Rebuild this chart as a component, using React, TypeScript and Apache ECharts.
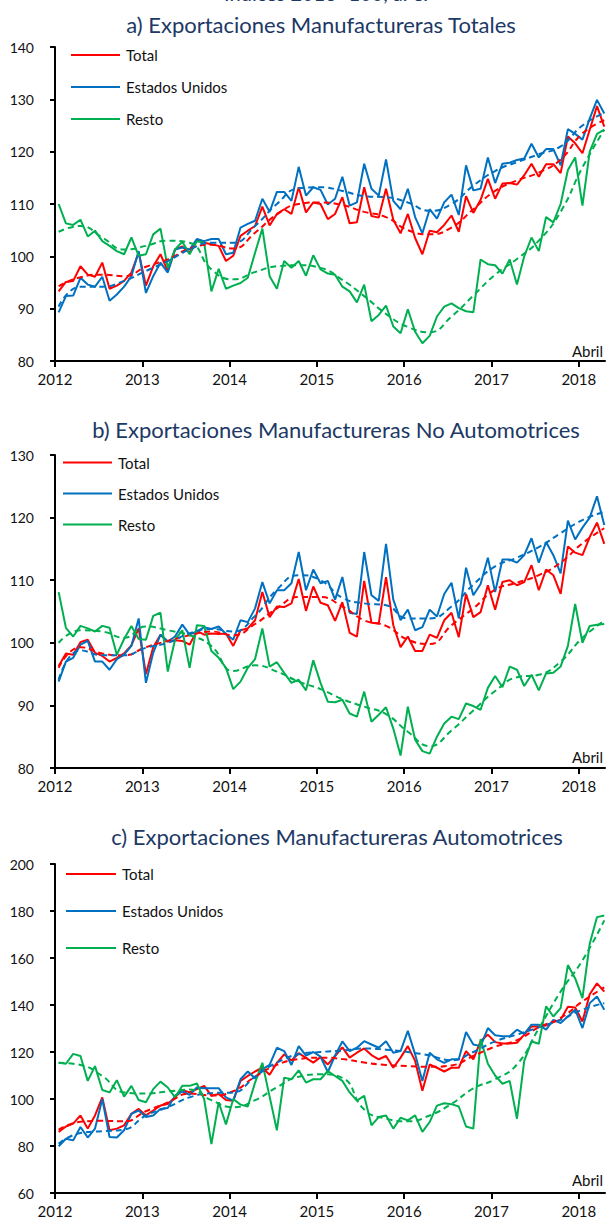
import React, { useEffect, useRef } from 'react';
import * as echarts from 'echarts';

// ---------- data ----------
const yearLabels = ['2012', '2013', '2014', '2015', '2016', '2017', '2018'];
const seriesNames = ['Total', 'Estados Unidos', 'Resto'];
const lastMonthLabel = 'Abril';
const headerCut = 'Índices 2013=100, a. e.';
const panelTitles = [
  'a) Exportaciones Manufactureras Totales',
  'b) Exportaciones Manufactureras No Automotrices',
  'c) Exportaciones Manufactureras Automotrices',
];

// monthly values, Jan 2012 .. Apr 2018 (76 months)
const totA = [
  93.3, 95.1, 95.3, 98.1, 96.5, 96.1, 98.8, 93.8, 94.4, 95.3, 96.9, 100.7,
  94.4, 98.1, 100.4, 97.2, 101.3, 101.9, 100.7, 103.1, 102.6, 102.3, 102.0, 99.1,
  100.1, 103.9, 104.9, 105.8, 109.5, 105.9, 108.1, 109.0, 108.1, 113.2, 108.4, 110.3,
  110.0, 107.1, 108.1, 111.3, 106.3, 106.5, 113.2, 107.7, 107.4, 112.9, 107.0, 104.4,
  108.1, 103.5, 100.4, 104.9, 104.6, 106.0, 107.8, 104.7, 111.5, 108.3, 110.8, 114.8,
  111.0, 113.9, 114.0, 113.7, 115.5, 117.7, 115.2, 117.6, 117.6, 115.9, 122.9, 121.6,
  119.7, 124.2, 128.7, 124.8,
];
const usA = [
  89.3, 92.4, 92.5, 95.9, 94.6, 94.2, 96.1, 91.5, 92.7, 94.2, 96.2, 101.0,
  93.0, 96.2, 98.8, 96.9, 101.3, 101.7, 101.3, 103.3, 102.9, 103.3, 103.3, 100.4,
  100.7, 105.5, 106.2, 106.8, 111.0, 108.5, 112.3, 112.3, 110.6, 117.1, 111.6, 113.2,
  112.7, 109.9, 111.0, 115.2, 109.7, 110.3, 117.7, 112.9, 111.6, 118.5, 110.6, 109.0,
  112.9, 107.5, 104.4, 109.0, 107.2, 110.3, 111.8, 107.9, 117.4, 112.6, 112.9, 118.9,
  114.0, 117.7, 117.9, 118.4, 118.7, 121.5, 118.9, 120.5, 120.5, 117.4, 124.3, 123.4,
  122.3, 126.3, 129.9, 127.3,
];
const restoA = [
  110.0, 106.3, 106.0, 107.0, 103.8, 104.9, 102.9, 102.0, 101.0, 100.4, 103.6, 100.1,
  100.4, 104.2, 105.3, 97.8, 101.3, 102.8, 100.4, 102.9, 102.6, 93.3, 97.6, 93.8,
  94.4, 94.9, 95.9, 100.7, 105.3, 96.2, 93.8, 99.1, 97.8, 99.1, 96.3, 100.2,
  97.5, 96.7, 96.5, 94.2, 93.3, 91.2, 94.6, 87.6, 88.8, 90.6, 86.6, 85.3,
  89.9, 85.6, 83.4, 84.8, 88.5, 90.4, 91.0, 90.1, 89.5, 89.3, 99.4, 98.5,
  98.3, 96.7, 99.4, 94.6, 100.0, 103.6, 101.0, 107.5, 106.5, 110.0, 116.5, 118.9,
  109.7, 120.0, 123.4, 124.2,
];

const totB = [
  96.3, 98.3, 98.1, 100.1, 100.5, 98.4, 97.9, 97.0, 97.6, 98.3, 99.6, 102.3,
  95.0, 99.3, 101.3, 100.2, 100.4, 100.3, 99.7, 101.9, 101.3, 101.5, 101.4, 101.5,
  99.5, 102.0, 102.3, 103.6, 108.1, 104.1, 105.8, 105.7, 106.3, 110.2, 105.1, 109.0,
  106.4, 106.0, 103.5, 106.5, 101.6, 101.0, 109.9, 103.2, 103.1, 110.5, 102.8, 99.3,
  101.0, 98.7, 98.7, 101.3, 100.8, 103.6, 104.8, 100.9, 107.8, 104.1, 104.9, 109.2,
  105.3, 109.7, 110.0, 109.2, 109.7, 112.4, 108.4, 111.7, 110.8, 107.8, 115.4, 114.4,
  114.0, 116.9, 119.2, 115.8,
];
const usB = [
  93.8, 97.0, 97.6, 99.7, 100.3, 97.0, 97.0, 95.7, 97.4, 98.1, 99.5, 103.9,
  93.6, 98.4, 101.3, 100.2, 101.0, 102.9, 101.3, 101.8, 102.5, 102.2, 102.6, 101.4,
  100.5, 103.6, 103.3, 105.5, 109.7, 106.3, 108.4, 108.4, 109.5, 114.5, 108.4, 111.7,
  109.5, 109.9, 106.9, 110.5, 104.8, 104.6, 114.5, 107.6, 106.7, 115.8, 106.9, 103.6,
  105.3, 102.0, 102.5, 105.3, 104.2, 107.8, 109.6, 103.9, 112.0, 107.6, 109.4, 113.6,
  108.1, 113.3, 113.3, 112.8, 114.0, 116.7, 112.8, 116.1, 114.0, 111.1, 119.5, 116.5,
  118.4, 120.0, 123.4, 118.8,
];
const restoB = [
  108.1, 102.4, 101.0, 102.7, 102.3, 101.8, 102.7, 102.4, 98.1, 100.6, 102.7, 100.6,
  100.5, 104.3, 104.8, 95.4, 100.5, 102.0, 96.0, 102.8, 102.7, 98.7, 97.6, 96.0,
  92.6, 93.8, 96.0, 97.4, 102.3, 96.2, 96.9, 95.2, 93.6, 94.1, 92.4, 97.2,
  93.6, 90.6, 90.5, 90.9, 88.7, 88.2, 92.2, 87.4, 88.5, 89.7, 86.3, 82.0,
  89.8, 84.5, 82.7, 82.3, 85.0, 87.1, 88.2, 87.8, 90.3, 89.9, 89.3, 92.8,
  94.7, 92.9, 96.2, 95.7, 93.1, 94.9, 92.4, 95.1, 95.2, 96.2, 99.5, 106.2,
  100.0, 102.7, 102.9, 103.0,
];

const totC = [
  86.0, 88.3, 89.5, 93.0, 87.4, 93.0, 100.7, 86.7, 87.4, 88.8, 93.7, 95.8,
  93.0, 95.1, 97.2, 97.9, 100.7, 103.8, 102.8, 104.2, 105.6, 101.4, 102.1, 99.6,
  99.3, 107.7, 109.8, 111.7, 113.3, 110.3, 115.4, 119.0, 116.4, 119.5, 117.5, 115.5,
  117.8, 114.7, 118.3, 122.0, 117.6, 119.7, 121.5, 118.7, 116.9, 118.3, 113.3, 117.6,
  122.5, 116.2, 103.5, 114.7, 113.3, 111.7, 113.3, 113.3, 120.4, 116.9, 124.6, 127.4,
  124.2, 123.6, 123.6, 123.9, 127.4, 130.9, 130.9, 131.3, 132.7, 133.7, 139.3, 138.9,
  133.0, 144.6, 149.2, 145.7,
];
const usC = [
  79.9, 83.1, 82.4, 88.1, 83.6, 87.4, 100.0, 83.8, 83.6, 86.7, 93.7, 95.1,
  92.3, 93.0, 95.8, 96.2, 101.4, 103.2, 101.8, 104.9, 104.6, 104.6, 104.6, 100.7,
  99.3, 108.4, 111.7, 108.8, 112.6, 114.5, 121.8, 120.4, 114.5, 122.5, 118.5, 120.0,
  118.0, 111.5, 118.5, 124.5, 120.4, 121.8, 124.6, 123.2, 121.8, 124.6, 119.7, 120.4,
  129.0, 119.0, 107.7, 119.7, 116.9, 115.4, 116.9, 116.9, 128.5, 123.2, 122.5, 130.2,
  127.1, 126.7, 126.7, 129.5, 127.7, 131.6, 131.6, 129.5, 133.7, 132.3, 135.1, 138.0,
  130.2, 140.8, 143.6, 138.0,
];
const restoC = [
  115.4, 115.0, 119.2, 118.3, 107.7, 114.0, 103.8, 102.8, 108.0, 101.0, 105.6, 99.6,
  98.6, 104.2, 107.4, 104.9, 100.7, 105.6, 105.6, 106.6, 100.0, 80.8, 98.6, 89.2,
  100.0, 97.6, 96.8, 107.0, 115.4, 101.0, 86.7, 109.1, 108.4, 112.2, 107.0, 108.4,
  108.4, 111.9, 109.8, 107.7, 102.8, 99.3, 101.4, 88.8, 92.3, 93.0, 87.4, 92.0,
  90.9, 93.0, 86.0, 90.2, 97.2, 98.2, 97.8, 96.8, 88.3, 87.4, 125.5, 115.0,
  110.0, 106.5, 107.7, 91.6, 116.2, 124.5, 123.5, 139.4, 135.1, 138.7, 157.0, 151.3,
  142.9, 166.1, 177.4, 178.1,
];

// trend values every third month (Jan 2012, Apr 2012, ... Apr 2018)
const trendTotA = [94.3, 96.0, 96.5, 96.2, 98.0, 99.4, 101.5, 102.2, 101.5, 104.5, 108.0, 110.0, 110.3, 109.8, 108.5, 107.5, 105.0, 104.2, 105.5, 109.0, 112.5, 114.5, 116.0, 118.5, 123.5, 126.0];
const trendUsA = [90.4, 94.2, 94.2, 95.3, 97.2, 99.1, 101.3, 102.6, 102.6, 105.8, 110.0, 113.0, 113.2, 112.5, 111.5, 111.3, 110.3, 108.7, 110.0, 113.5, 116.3, 118.0, 119.5, 121.0, 125.0, 127.4];
const trendRestoA = [104.7, 105.8, 103.6, 101.3, 102.0, 103.0, 102.6, 97.5, 95.6, 97.0, 98.1, 98.3, 97.8, 95.5, 92.4, 89.0, 86.5, 85.5, 88.5, 92.5, 96.5, 99.5, 103.0, 108.5, 117.0, 124.2];

const trendTotB = [96.0, 99.3, 98.3, 98.0, 99.3, 100.3, 101.2, 101.8, 101.2, 103.0, 105.5, 107.3, 107.3, 105.8, 103.6, 102.7, 100.5, 99.8, 102.8, 105.5, 108.5, 109.6, 110.8, 112.8, 115.9, 118.3];
const trendUsB = [94.1, 98.8, 98.0, 98.0, 99.2, 100.0, 101.5, 102.2, 101.8, 104.3, 108.5, 110.8, 110.0, 107.2, 106.3, 106.0, 103.9, 103.9, 105.8, 109.3, 112.2, 113.6, 115.3, 117.5, 119.6, 120.9];
const trendRestoB = [100.0, 102.0, 101.8, 100.8, 102.6, 102.0, 101.2, 99.5, 95.5, 96.4, 95.4, 93.8, 92.6, 91.0, 89.8, 88.6, 85.8, 83.5, 86.0, 89.2, 92.3, 94.5, 94.9, 97.0, 100.8, 103.5];

const trendTotC = [87.0, 90.3, 90.7, 90.5, 94.8, 98.5, 102.3, 101.5, 103.3, 109.5, 114.5, 117.0, 117.6, 117.0, 115.5, 114.5, 114.0, 113.7, 114.3, 118.3, 122.3, 125.0, 130.5, 134.5, 141.5, 147.5];
const trendUsC = [81.0, 85.5, 86.3, 87.0, 93.0, 96.5, 100.7, 102.5, 102.8, 109.5, 115.5, 119.0, 120.0, 120.6, 121.5, 121.0, 120.0, 118.5, 116.5, 120.0, 124.5, 127.4, 130.5, 133.7, 138.0, 140.8];
const trendRestoC = [115.4, 114.5, 109.8, 102.8, 102.3, 103.2, 104.0, 99.5, 96.5, 99.5, 105.0, 109.5, 110.5, 109.0, 95.5, 91.6, 90.5, 93.0, 97.9, 104.5, 108.4, 114.7, 130.0, 145.7, 159.0, 176.0];

const yRanges = [
  [80, 140, 10],
  [80, 130, 10],
  [60, 200, 20],
];

// ---------- styling / layout ----------
const COLORS = ['#FF0000', '#0070C0', '#00B050'];
const TITLE_COLOR = '#203864';
const FONT = 'Lato, "Open Sans", sans-serif';

const layout = [
  { gridTop: 47, gridH: 314, titleX: 321, titleY: 24, legX: 71, legW: 49, legY: 55, legGap: 32, abrilY: 351 },
  { gridTop: 455, gridH: 313, titleX: 336, titleY: 429.5, legX: 63, legW: 49, legY: 462.5, legGap: 31, abrilY: 757 },
  { gridTop: 864, gridH: 329, titleX: 337, titleY: 836.5, legX: 66, legW: 50, legY: 874, legGap: 37, abrilY: 1180 },
];

const monthly = (vals: number[]) => vals.map((v, i) => [i + 0.5, v]);
const quarterly = (vals: number[]) => vals.map((v, k) => [3 * k + 0.5, v]);

const rawSets = [
  [totA, usA, restoA],
  [totB, usB, restoB],
  [totC, usC, restoC],
];
const trendSets = [
  [trendTotA, trendUsA, trendRestoA],
  [trendTotB, trendUsB, trendRestoB],
  [trendTotC, trendUsC, trendRestoC],
];

const tickVals = yearLabels.map((_, k) => k * 12);

function buildOption() {
  const grid: any[] = [];
  const xAxis: any[] = [];
  const yAxis: any[] = [];
  const series: any[] = [];
  const graphic: any[] = [];

  layout.forEach((L, k) => {
    grid.push({ left: 55, top: L.gridTop, width: 550, height: L.gridH, outerBoundsMode: 'none' });
    xAxis.push({
      type: 'value', gridIndex: k, min: 0, max: 75.6, interval: 12,
      axisLine: { show: true, onZero: false, lineStyle: { color: '#000', width: 2 } },
      axisTick: { show: true, length: 6, customValues: tickVals, lineStyle: { color: '#000', width: 2 } },
      axisLabel: {
        customValues: tickVals, margin: 10, fontSize: 15, color: '#111', fontFamily: FONT,
        formatter: (v: number) => {
          const idx = v / 12;
          return Number.isInteger(idx) && yearLabels[idx] ? yearLabels[idx] : '';
        },
      },
      splitLine: { show: false },
    });
    const [mn, mx, iv] = yRanges[k];
    yAxis.push({
      type: 'value', gridIndex: k, min: mn, max: mx, interval: iv,
      axisLine: { show: true, lineStyle: { color: '#000', width: 2 } },
      axisTick: { show: true, length: 5, lineStyle: { color: '#000', width: 2 } },
      axisLabel: { margin: 21, fontSize: 14, color: '#111', fontFamily: FONT },
      splitLine: { show: false },
    });

    rawSets[k].forEach((vals, s) => {
      series.push({
        type: 'line', name: seriesNames[s], xAxisIndex: k, yAxisIndex: k,
        data: monthly(vals), symbol: 'none', silent: true,
        lineStyle: { color: COLORS[s], width: 2 }, itemStyle: { color: COLORS[s] },
      });
    });
    trendSets[k].forEach((vals, s) => {
      series.push({
        type: 'line', name: seriesNames[s] + ' tendencia', xAxisIndex: k, yAxisIndex: k,
        data: quarterly(vals), symbol: 'none', silent: true, smooth: 0.5,
        lineStyle: { color: COLORS[s], width: 2, type: [6, 4] }, itemStyle: { color: COLORS[s] },
      });
    });

    graphic.push({
      type: 'text', x: L.titleX, y: L.titleY, silent: true,
      style: { text: panelTitles[k], fill: TITLE_COLOR, fontSize: 22, fontFamily: FONT, align: 'center', verticalAlign: 'middle' },
    });
    seriesNames.forEach((nm, s) => {
      const cy = L.legY + s * L.legGap;
      graphic.push({
        type: 'line', silent: true,
        shape: { x1: L.legX, y1: cy, x2: L.legX + L.legW, y2: cy },
        style: { stroke: COLORS[s], lineWidth: 2 },
      });
      graphic.push({
        type: 'text', x: L.legX + L.legW + 6, y: cy, silent: true,
        style: { text: nm, fill: '#111', fontSize: 15, fontFamily: FONT, align: 'left', verticalAlign: 'middle' },
      });
    });
    graphic.push({
      type: 'text', x: 603, y: L.abrilY, silent: true,
      style: { text: lastMonthLabel, fill: '#111', fontSize: 15, fontFamily: FONT, align: 'right', verticalAlign: 'middle' },
    });
  });

  graphic.push({
    type: 'text', x: 326, y: 2.5, silent: true,
    style: { text: headerCut, fill: TITLE_COLOR, fontSize: 20, fontFamily: FONT, align: 'center', verticalAlign: 'bottom' },
  });

  return { animation: false, backgroundColor: '#fff', grid, xAxis, yAxis, series, graphic };
}

export default function App() {
  const ref = useRef<HTMLDivElement>(null);
  useEffect(() => {
    if (!ref.current) return;
    const chart = echarts.init(ref.current, undefined, { renderer: 'svg' });
    chart.setOption(buildOption());
    return () => chart.dispose();
  }, []);
  return <div ref={ref} style={{ position: 'fixed', left: 0, top: 0, width: 606, height: 1225 }} />;
}
